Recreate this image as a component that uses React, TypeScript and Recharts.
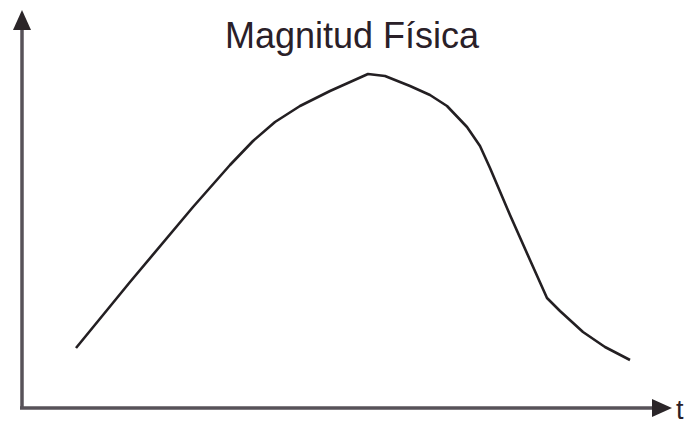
import React from "react";
import { LineChart, Line, XAxis, YAxis, ReferenceLine, Customized } from "recharts";

const TITLE = "Magnitud Física";
const X_LABEL = "t";
const tValues = [54, 108, 171, 208, 231, 253, 278, 308, 346, 363, 388, 408, 425, 445, 458, 468, 488, 508, 525, 538, 561, 583, 608];
const magnitudeValues = [60, 126, 201, 243, 267, 286, 302, 317, 334, 332, 322, 313, 302, 281, 262, 240, 193, 148, 110, 97, 76, 61, 48];
const X_DOMAIN = [0, 650];
const Y_DOMAIN = [0, 398];

const data = tValues.map((t, i) => ({ t, m: magnitudeValues[i] }));

const AXIS_COLOR = "#575259";
const LINE_COLOR = "#231f22";

const Arrow = (props: any) => {
  const { x1, y1, x2, y2 } = props;
  const dx = x2 - x1;
  const dy = y2 - y1;
  const len = Math.sqrt(dx * dx + dy * dy) || 1;
  const ux = dx / len;
  const uy = dy / len;
  const headLen = 20;
  const halfW = 9;
  const bx = x2 - ux * headLen;
  const by = y2 - uy * headLen;
  const px = -uy;
  const py = ux;
  const pts = `${x2},${y2} ${bx + px * halfW},${by + py * halfW} ${bx - px * halfW},${by - py * halfW}`;
  return (
    <g>
      <line x1={x1} y1={y1} x2={bx + ux * 2} y2={by + uy * 2} stroke={AXIS_COLOR} strokeWidth={3.5} />
      <polygon points={pts} fill="#2b2629" />
    </g>
  );
};

const Texts = () => (
  <g>
    <text x={352} y={48} textAnchor="middle" fontFamily="Liberation Sans, Arial, sans-serif" fontSize={36} fill="#2a2028">
      {TITLE}
    </text>
    <text x={676} y={419} fontFamily="Liberation Sans, Arial, sans-serif" fontSize={27} fill="#2a2028">
      {X_LABEL}
    </text>
  </g>
);

export default function App() {
  return (
    <div style={{ position: "absolute", left: 0, top: 0, width: 688, height: 427, background: "#fff" }}>
      <LineChart width={688} height={427} data={data} margin={{ top: 10, right: 16, bottom: 19, left: 22 }}>
        <XAxis type="number" dataKey="t" domain={X_DOMAIN} hide />
        <YAxis type="number" domain={Y_DOMAIN} hide />
        <ReferenceLine
          segment={[{ x: 0, y: 0 }, { x: 0, y: 398 }]}
          shape={Arrow}
          ifOverflow="visible"
        />
        <ReferenceLine
          segment={[{ x: -2, y: 0 }, { x: 650, y: 0 }]}
          shape={Arrow}
          ifOverflow="visible"
        />
        <Line
          type="linear"
          dataKey="m"
          stroke={LINE_COLOR}
          strokeWidth={2.6}
          strokeLinejoin="round"
          dot={false}
          isAnimationActive={false}
        />
        <Customized component={Texts} />
      </LineChart>
    </div>
  );
}
